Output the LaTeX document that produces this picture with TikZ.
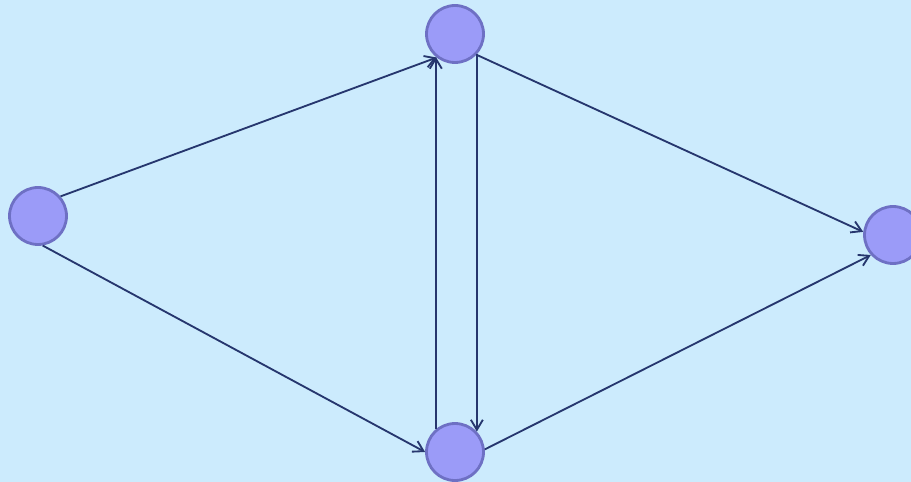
\documentclass[tikz,border=0pt]{standalone}
\usepackage{xcolor}
\definecolor{cBack}{HTML}{CCEBFD}
\definecolor{cNode}{HTML}{9B9BF8}
\definecolor{cRim}{HTML}{6E70C4}
\definecolor{cEdge}{HTML}{26366E}
\usepackage{tikz}
\usetikzlibrary{arrows.meta}
\tikzset{
  node-dot/.style={circle,draw=cRim,line width=1.6pt,fill=cNode,
    minimum size=1.14cm,inner sep=0pt},
  arrow/.style={-{Straight Barb[length=2mm,width=2.4mm]},line width=1.05pt,draw=cEdge},
}
\begin{document}
\begin{tikzpicture}[x=0.02cm,y=-0.02cm]
  \fill[cBack] (0,0) rectangle (911,482);
  \useasboundingbox (0,0) rectangle (911,482);
  \foreach \name/\x/\y in {src/38/216, up/455/34, down/455/452, snk/893/235} {
    \node[node-dot] (\name) at (\x,\y) {};
  }
  \draw[arrow] (src.41) -- (up.232);
  \draw[arrow] (src.279) -- (down.180);
  \draw[arrow] (down.130) -- (up.230);
  \draw[arrow] (up.317) -- (down.43);
  \draw[arrow] (up.316) -- (snk.174);
  \draw[arrow] (down.5) -- (snk.222);
\end{tikzpicture}
\end{document}
